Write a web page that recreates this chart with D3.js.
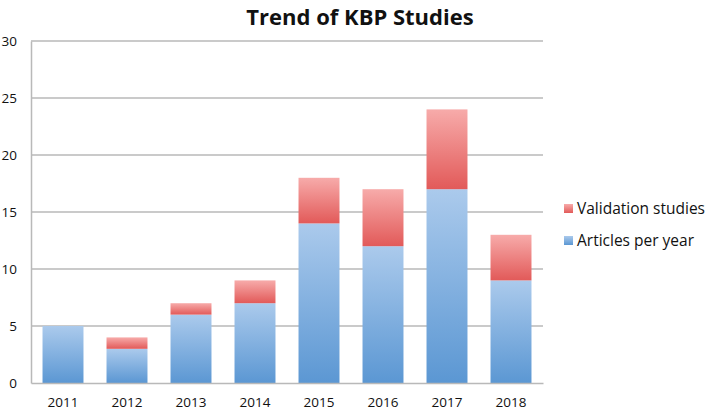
<!DOCTYPE html>
<meta charset="utf-8">
<title>Trend of KBP Studies</title>
<style>
body { margin:0; background:#fff; }
svg text { font-family: "Open Sans", sans-serif; fill:#111; }
.axis text { font-size:13.5px; }
.legend text { font-size:15.5px; }
</style>
<svg width="709" height="411"></svg>
<script src="https://d3js.org/d3.v7.min.js"></script>
<script>

var years = ["2011","2012","2013","2014","2015","2016","2017","2018"];
var articles = [5, 3, 6, 7, 14, 12, 17, 9];
var validation = [0, 1, 1, 2, 4, 5, 7, 4];
var yTicks = [0, 5, 10, 15, 20, 25, 30];
var seriesNames = ["Articles per year", "Validation studies"];

var svg = d3.select("svg"),
    margin = {top: 41, left: 31, right: 166, bottom: 28},
    width = +svg.attr("width") - margin.left - margin.right,
    height = +svg.attr("height") - margin.top - margin.bottom;

var defs = svg.append("defs");
function grad(id, top, bottom) {
  var lg = defs.append("linearGradient").attr("id", id)
    .attr("x1", 0).attr("y1", 0).attr("x2", 0).attr("y2", 1);
  lg.append("stop").attr("offset", "0%").attr("stop-color", top);
  lg.append("stop").attr("offset", "100%").attr("stop-color", bottom);
}
grad("gBlue", "#abcaec", "#5b97d3");
grad("gRed", "#f7abaa", "#e25a59");
var fills = ["url(#gBlue)", "url(#gRed)"];

var rows = years.map(function(y, i) {
  return {year: y, a: articles[i], v: validation[i]};
});
var stack = d3.stack().keys(["a", "v"])(rows);

var x = d3.scaleBand().domain(years).range([0, width])
    .paddingInner(0.36).paddingOuter(0.18);
var y = d3.scaleLinear().domain([0, 30]).range([height, 0]);

var g = svg.append("g").attr("transform", "translate(" + margin.left + "," + margin.top + ")");

// gridlines
g.selectAll(".grid").data(yTicks.slice(1)).enter().append("line")
  .attr("x1", 0).attr("x2", width)
  .attr("y1", function(d) { return y(d); }).attr("y2", function(d) { return y(d); })
  .style("stroke", "#b9b9b9").style("stroke-width", "1.3px");

// bars
g.selectAll(".layer").data(stack).enter().append("g")
  .attr("fill", function(d, i) { return fills[i]; })
  .selectAll("rect").data(function(d) { return d; }).enter().append("rect")
  .attr("x", function(d) { return x(d.data.year); })
  .attr("y", function(d) { return y(d[1]); })
  .attr("width", x.bandwidth())
  .attr("height", function(d) { return y(d[0]) - y(d[1]); });

// axes
var yAxis = g.append("g").attr("class", "axis")
  .call(d3.axisLeft(y).tickValues(yTicks).tickSize(0).tickPadding(14));
yAxis.select(".domain").style("stroke", "#b9b9b9").style("stroke-width", "1.5px");

var xAxis = g.append("g").attr("class", "axis")
  .attr("transform", "translate(0," + height + ")")
  .call(d3.axisBottom(x).tickSize(0).tickPadding(14));
xAxis.select(".domain").style("stroke", "#b9b9b9").style("stroke-width", "1.5px");
g.selectAll(".axis text").style("fill", "#111");

// title
svg.append("text")
  .attr("x", 360).attr("y", 25)
  .attr("text-anchor", "middle")
  .style("font-size", "22px").style("font-weight", "bold")
  .text("Trend of KBP Studies");

// legend
var legend = svg.append("g").attr("class", "legend")
  .attr("transform", "translate(564,204)");
var items = [1, 0];
items.forEach(function(k, i) {
  var it = legend.append("g").attr("transform", "translate(0," + (i * 32) + ")");
  it.append("rect").attr("width", 9).attr("height", 9).attr("fill", fills[k]);
  it.append("text").attr("x", 13).attr("y", 5).attr("dy", "0.35em").text(seriesNames[k]);
});

</script>
